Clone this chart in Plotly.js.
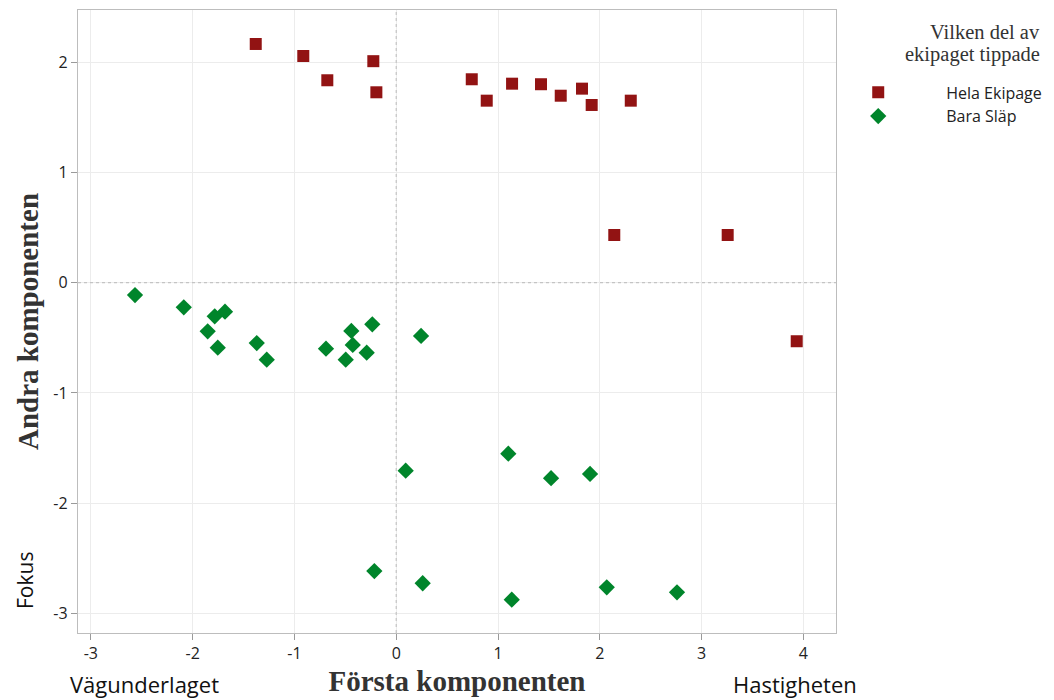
<!DOCTYPE html>
<html>
<head>
<meta charset="utf-8">
<script src="https://cdn.plot.ly/plotly-3.0.1.min.js"></script>
<style>html,body{margin:0;padding:0;background:#fff;}#chart{width:1054px;height:700px;}</style>
</head>
<body>
<div id="chart"></div>
<script>
// Series: Hela Ekipage (whole vehicle tipped)
const helaX = [-1.380, -0.913, -0.677, -0.225, -0.195, 0.742, 0.889, 1.138, 1.422, 1.616, 1.825, 1.920, 2.304, 2.142, 3.256, 3.934];
const helaY = [2.164, 2.055, 1.835, 2.008, 1.726, 1.844, 1.650, 1.804, 1.799, 1.695, 1.759, 1.611, 1.650, 0.432, 0.432, -0.531];
// Series: Bara Släp (only trailer tipped)
const baraX = [-2.566, -2.087, -1.783, -1.682, -1.852, -1.753, -1.370, -1.272, -0.690, -0.441, -0.235, -0.427, -0.290, -0.496, 0.244, 0.093, 1.101, 1.521, 1.904, -0.215, 0.260, 1.135, 2.068, 2.758];
const baraY = [-0.112, -0.223, -0.305, -0.263, -0.441, -0.589, -0.547, -0.698, -0.598, -0.438, -0.377, -0.565, -0.635, -0.698, -0.483, -1.704, -1.550, -1.773, -1.734, -2.614, -2.725, -2.874, -2.762, -2.807];

const seriesNames = ["Hela Ekipage", "Bara Släp"];
const xTickVals = [-3, -2, -1, 0, 1, 2, 3, 4];
const xTickText = ["-3", "-2", "-1", "0", "1", "2", "3", "4"];
const yTickVals = [-3, -2, -1, 0, 1, 2];
const yTickText = ["-3", "-2", "-1", "0", "1", "2"];

const sans = "Open Sans, Noto Sans, sans-serif";
const serif = "Liberation Serif, Times New Roman, serif";

const traces = [
  {
    x: helaX, y: helaY, name: seriesNames[0], type: "scatter", mode: "markers",
    marker: {symbol: "square", size: 12, color: "#921313", line: {width: 0}}
  },
  {
    x: baraX, y: baraY, name: seriesNames[1], type: "scatter", mode: "markers",
    marker: {symbol: "diamond", size: 12.5, color: "#00852b", line: {width: 0}}
  }
];

const axisCommon = {
  showline: true, linecolor: "#bdbdbd", linewidth: 1.2, mirror: true,
  showgrid: true, gridcolor: "#ececec", gridwidth: 1,
  zeroline: false,
  ticks: "outside", ticklen: 6, tickcolor: "#9a9a9a", tickwidth: 1,
  tickfont: {family: sans, size: 16, color: "#222"},
  tickmode: "array"
};

const layout = {
  width: 1054, height: 700,
  paper_bgcolor: "#fff", plot_bgcolor: "#fff",
  margin: {l: 78, r: 218, t: 10, b: 67, autoexpand: false},
  showlegend: true,
  xaxis: Object.assign({}, axisCommon, {
    range: [-3.126, 4.320],
    tickvals: xTickVals, ticktext: xTickText,
    title: {text: "Första komponenten", font: {family: serif, size: 29, color: "#333", weight: "bold"}, standoff: 7}
  }),
  yaxis: Object.assign({}, axisCommon, {
    range: [-3.176, 2.472],
    tickvals: yTickVals, ticktext: yTickText,
    title: {text: "Andra komponenten", font: {family: serif, size: 29, color: "#333", weight: "bold"}, standoff: 6}
  }),
  legend: {
    x: 0.966, xanchor: "left", y: 0.895, yanchor: "top",
    font: {family: sans, size: 16, color: "#222"},
    itemwidth: 126, tracegroupgap: 0, bgcolor: "rgba(0,0,0,0)"
  },
  shapes: [
    {type: "line", xref: "x", yref: "paper", x0: 0, x1: 0, y0: 0, y1: 1, line: {color: "#c4c4c4", width: 1.2, dash: "3px,3px"}},
    {type: "line", xref: "paper", yref: "y", x0: 0, x1: 1, y0: 0, y1: 0, line: {color: "#c4c4c4", width: 1.2, dash: "3px,3px"}}
  ],
  annotations: [
    {text: "Vilken del av", xref: "paper", yref: "paper", x: 1.272, y: 0.9647, xanchor: "right", yanchor: "middle", align: "right", showarrow: false, font: {family: serif, size: 20.5, color: "#333"}},
    {text: "ekipaget tippade", xref: "paper", yref: "paper", x: 1.272, y: 0.9278, xanchor: "right", yanchor: "middle", align: "right", showarrow: false, font: {family: serif, size: 20.5, color: "#333"}},
    {text: "Vägunderlaget", xref: "paper", yref: "paper", x: -0.013, y: -0.082, xanchor: "left", yanchor: "middle", showarrow: false, font: {family: sans, size: 22, color: "#111"}},
    {text: "Hastigheten", xref: "paper", yref: "paper", x: 0.861, y: -0.082, xanchor: "left", yanchor: "middle", showarrow: false, font: {family: sans, size: 22, color: "#111"}},
    {text: "Fokus", xref: "paper", yref: "paper", x: -0.070, y: 0.085, xanchor: "center", yanchor: "middle", textangle: -90, showarrow: false, font: {family: sans, size: 21, color: "#111"}}
  ]
};

Plotly.newPlot("chart", traces, layout, {displayModeBar: false, staticPlot: true});
</script>
</body>
</html>
